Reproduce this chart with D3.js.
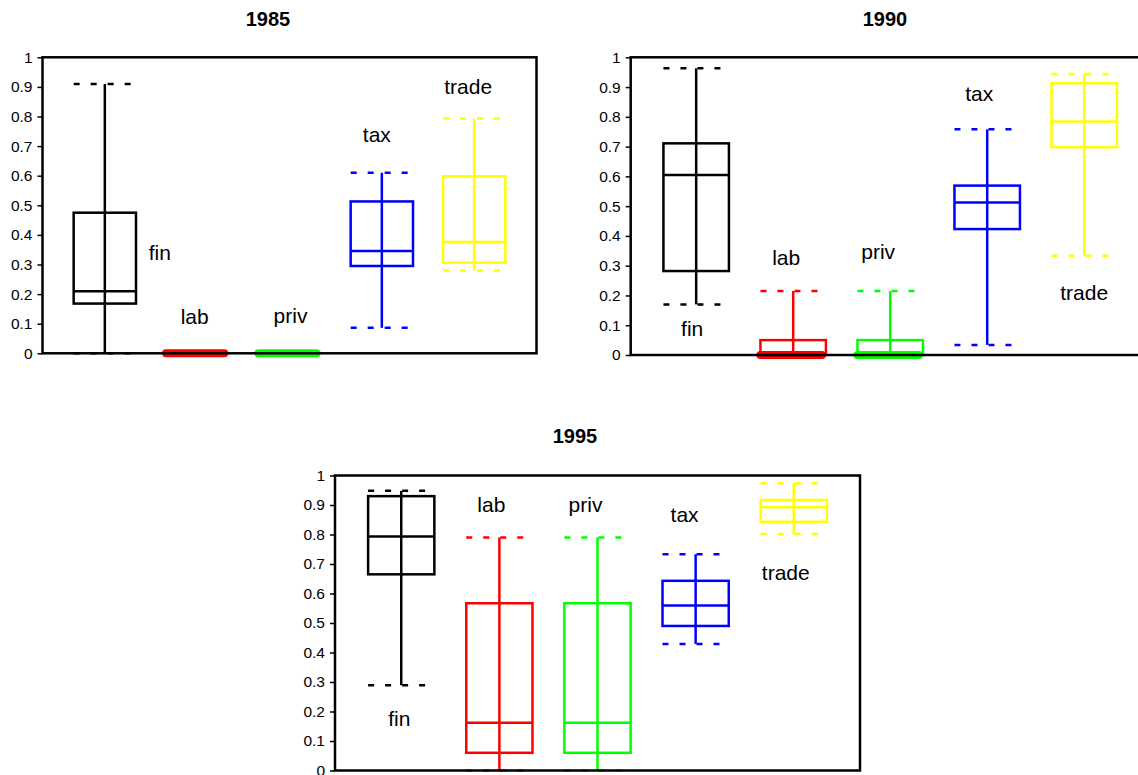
<!DOCTYPE html>
<html>
<head>
<meta charset="utf-8">
<script src="https://cdn.jsdelivr.net/npm/d3@7/dist/d3.min.js"></script>
<style>
  body { margin: 0; background: #fff; }
  svg { display: block; font-family: "Liberation Sans", Arial, sans-serif; }
</style>
</head>
<body>
<svg id="chart" width="1138" height="775"></svg>
<script>
// ---------- data ----------
const years = ["1985", "1990", "1995"];
const categories = ["fin", "lab", "priv", "tax", "trade"];
const colors = ["#000000", "#ff0000", "#00ff00", "#0000ff", "#ffff00"];
const yTicks = [0, 0.1, 0.2, 0.3, 0.4, 0.5, 0.6, 0.7, 0.8, 0.9, 1];

// 1985
const min1985 = [0, 0, 0, 0.086, 0.28];
const q1_1985 = [0.168, 0, 0, 0.295, 0.306];
const med1985 = [0.21, 0, 0, 0.346, 0.376];
const q3_1985 = [0.475, 0, 0, 0.513, 0.598];
const max1985 = [0.91, 0, 0, 0.61, 0.793];

// 1990
const min1990 = [0.17, 0, 0, 0.034, 0.333];
const q1_1990 = [0.282, 0, 0, 0.423, 0.698];
const med1990 = [0.605, 0, 0, 0.512, 0.784];
const q3_1990 = [0.711, 0.05, 0.05, 0.569, 0.913];
const max1990 = [0.963, 0.215, 0.215, 0.758, 0.944];

// 1995
const min1995 = [0.289, 0, 0, 0.429, 0.802];
const q1_1995 = [0.665, 0.06, 0.06, 0.49, 0.843];
const med1995 = [0.793, 0.162, 0.162, 0.559, 0.892];
const q3_1995 = [0.93, 0.567, 0.567, 0.643, 0.917];
const max1995 = [0.948, 0.79, 0.79, 0.733, 0.974];

// ---------- layout (not data) ----------
const panels = [
  { year: "1985", left: 42.5, top: 57.3, width: 494, height: 296, titleX: 268, titleY: 26,
    stats: [min1985, q1_1985, med1985, q3_1985, max1985],
    labelV: [0.339, 0.124, 0.126, 0.737, 0.90], labelDx: [55, -2.5, 1, -5, -6] },
  { year: "1990", left: 630.7, top: 57.3, width: 519, height: 297.7, titleX: 885, titleY: 26,
    stats: [min1990, q1_1990, med1990, q3_1990, max1990],
    labelV: [0.09, 0.326, 0.346, 0.879, 0.21], labelDx: [-4, -7, -12, -8, 0] },
  { year: "1995", left: 335, top: 475.5, width: 525, height: 295, titleX: 575, titleY: 443,
    stats: [min1995, q1_1995, med1995, q3_1995, max1995],
    labelV: [0.177, 0.90, 0.90, 0.866, 0.669], labelDx: [-2, -8, -12, -11, -8] }
];

const svg = d3.select("#chart");

panels.forEach(p => {
  const g = svg.append("g");
  const x = d3.scalePoint().domain(categories)
    .range([p.left, p.left + p.width]).padding(0.675);
  const y = d3.scaleLinear().domain([0, 1]).range([p.top + p.height, p.top]);
  const bw = x.step() * 0.675;
  const [mins, q1s, meds, q3s, maxs] = p.stats;

  // title
  g.append("text").attr("x", p.titleX).attr("y", p.titleY)
    .attr("text-anchor", "middle").attr("font-weight", "bold")
    .attr("font-size", 20).text(p.year);

  // axis
  const ax = g.append("g").attr("transform", `translate(${p.left},0)`)
    .call(d3.axisLeft(y).tickValues(yTicks).tickFormat(d3.format("")).tickSize(5).tickPadding(5));
  ax.select(".domain").remove();
  ax.selectAll(".tick line").attr("stroke", "#000").attr("stroke-width", 1.5);
  ax.selectAll(".tick text").attr("font-size", 15.5).attr("fill", "#000")
    .attr("font-family", "Liberation Sans, Arial, sans-serif");

  categories.forEach((c, i) => {
    const cx = x(c);
    const col = colors[i];
    const bg = g.append("g").attr("stroke", col).attr("stroke-width", 2.5).attr("fill", "none");
    // whisker vertical
    bg.append("line").attr("x1", cx).attr("x2", cx)
      .attr("y1", y(mins[i])).attr("y2", y(maxs[i]));
    // dashed caps
    [mins[i], maxs[i]].forEach(v => {
      bg.append("line").attr("x1", cx - bw / 2).attr("x2", cx + bw / 2)
        .attr("y1", y(v)).attr("y2", y(v))
        .attr("stroke-dasharray", "6,11");
    });
    // box
    bg.append("rect").attr("x", cx - bw / 2).attr("width", bw)
      .attr("y", y(q3s[i])).attr("height", Math.max(0, y(q1s[i]) - y(q3s[i])));
    // median (drawn heavy when it coincides with the lower quartile)
    const degenerate = meds[i] === q1s[i];
    bg.append("path")
      .attr("d", `M${cx - bw / 2},${y(meds[i])}H${cx + bw / 2 - (degenerate ? 4 : 0)}`)
      .attr("stroke-width", degenerate ? 8 : 2.5)
      .attr("stroke-linecap", degenerate ? "round" : "butt");
    // label
    g.append("text").attr("x", cx + p.labelDx[i]).attr("y", y(p.labelV[i]))
      .attr("dy", "0.35em").attr("text-anchor", "middle")
      .attr("font-size", 21).attr("fill", "#000").text(c);
  });

  // frame on top
  g.append("rect").attr("x", p.left).attr("y", p.top)
    .attr("width", p.width).attr("height", p.height)
    .attr("fill", "none").attr("stroke", "#000").attr("stroke-width", 2.5);
});
</script>
</body>
</html>
